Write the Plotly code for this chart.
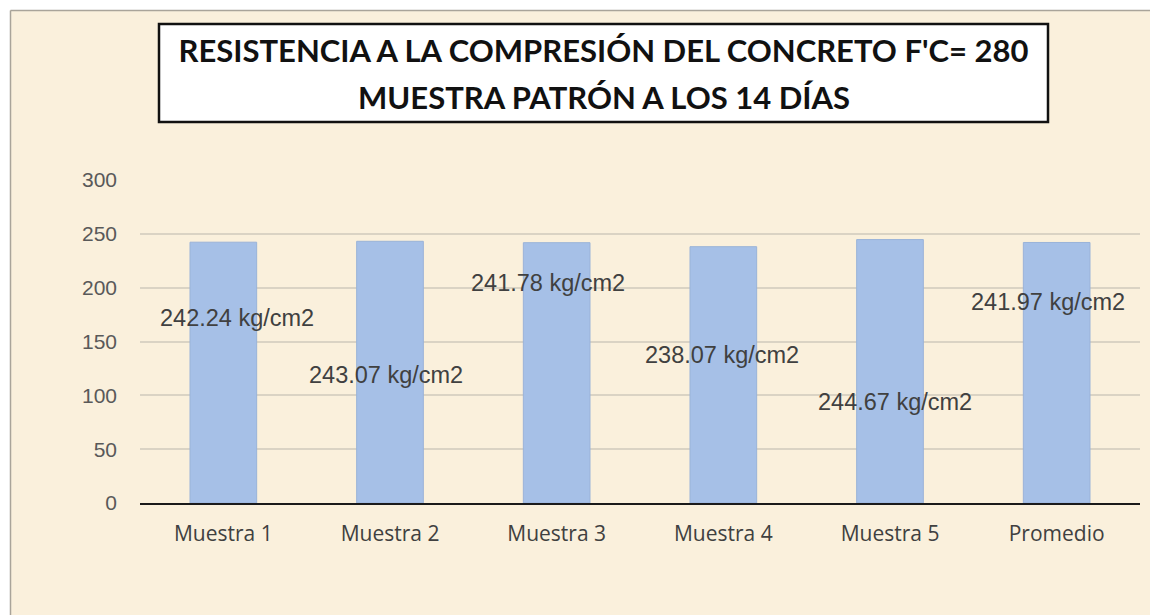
import plotly.graph_objects as go

categories = ["Muestra 1", "Muestra 2", "Muestra 3", "Muestra 4", "Muestra 5", "Promedio"]
values = [242.24, 243.07, 241.78, 238.07, 244.67, 241.97]
label_texts = ["242.24 kg/cm2", "243.07 kg/cm2", "241.78 kg/cm2",
               "238.07 kg/cm2", "244.67 kg/cm2", "241.97 kg/cm2"]
# where the data labels sit (the original chart has them scattered along the bars)
label_y = [172, 119, 204, 137.5, 94, 187]
label_dx = [14, -4, -9, -1, 5, -9]
y_ticks = [0, 50, 100, 150, 200, 250, 300]

title_line1 = "RESISTENCIA A LA COMPRESIÓN DEL CONCRETO F'C= 280"
title_line2 = "MUESTRA PATRÓN A LOS 14 DÍAS"

OFF = 8  # page body margin
W, H = 1158 - OFF, 615 - OFF
ML, MR, MT, MB = 140 - OFF, 18, 180 - OFF, 112
PW, PH = W - ML - MR, H - MT - MB

def px(x):  # page pixel -> paper x
    return (x - OFF - ML) / PW

def py(y):  # page pixel -> paper y
    return (H - MB - (y - OFF)) / PH

CREAM = "#FAF0DC"

fig = go.Figure()
fig.add_trace(go.Bar(
    x=categories, y=values,
    marker=dict(color="#A6C0E7", line=dict(color="#9AB3D8", width=1)),
    hoverinfo="x+y",
))

annotations = []
for c, t, ly, dx in zip(categories, label_texts, label_y, label_dx):
    annotations.append(dict(
        x=c, y=ly, xref="x", yref="y", text=t, showarrow=False, xshift=dx,
        font=dict(family="Liberation Sans, Arial", size=23.5, color="#404040"),
    ))

annotations.append(dict(
    x=px((159 + 1048) / 2), y=py(97), xref="paper", yref="paper",
    text=title_line2, showarrow=False, xanchor="center", yanchor="middle",
    font=dict(family="Lato", size=31, color="#111111", weight="bold"),
))

shapes = [
    # white strips and thin gray frame of the chart area
    dict(type="rect", xref="paper", yref="paper", x0=px(-5), x1=px(10), y0=py(700), y1=py(-5),
         fillcolor="white", line=dict(width=0), layer="below"),
    dict(type="rect", xref="paper", yref="paper", x0=px(-5), x1=px(1200), y0=py(10), y1=py(-5),
         fillcolor="white", line=dict(width=0), layer="below"),
    dict(type="line", xref="paper", yref="paper", x0=px(10.5), x1=px(10.5), y0=py(700), y1=py(10.5),
         line=dict(color="#A9A49A", width=1.5)),
    dict(type="line", xref="paper", yref="paper", x0=px(10.5), x1=px(1200), y0=py(10.5), y1=py(10.5),
         line=dict(color="#A9A49A", width=1.5)),
    # title box
    dict(type="rect", xref="paper", yref="paper", x0=px(159), x1=px(1048), y0=py(122), y1=py(24),
         fillcolor="white", line=dict(color="#111111", width=2.5)),
]

fig.update_layout(
    width=W, height=H,
    margin=dict(l=ML, r=MR, t=MT, b=MB, pad=0),
    paper_bgcolor=CREAM, plot_bgcolor=CREAM,
    bargap=0.6,
    showlegend=False,
    title=dict(
        text=title_line1, x=px((159 + 1048) / 2), xref="paper", xanchor="center",
        y=1 - (51 - OFF) / H, yref="container", yanchor="middle",
        font=dict(family="Lato", size=31, color="#111111", weight="bold"),
    ),
    xaxis=dict(
        showgrid=False, showline=True, linecolor="#1a1a1a", linewidth=1.5,
        tickfont=dict(family="Open Sans", size=21, color="#404040"),
        ticks="", ticklabelstandoff=11,
    ),
    yaxis=dict(
        range=[0, 300], tickvals=y_ticks, showgrid=True, gridcolor="#DAD3C4", gridwidth=1.5,
        zeroline=False, showline=False,
        tickfont=dict(family="Liberation Sans, Arial", size=21, color="#595959"),
        ticks="", ticklabelstandoff=22,
    ),
    annotations=annotations,
    shapes=shapes,
)

fig.write_html("out.html")
